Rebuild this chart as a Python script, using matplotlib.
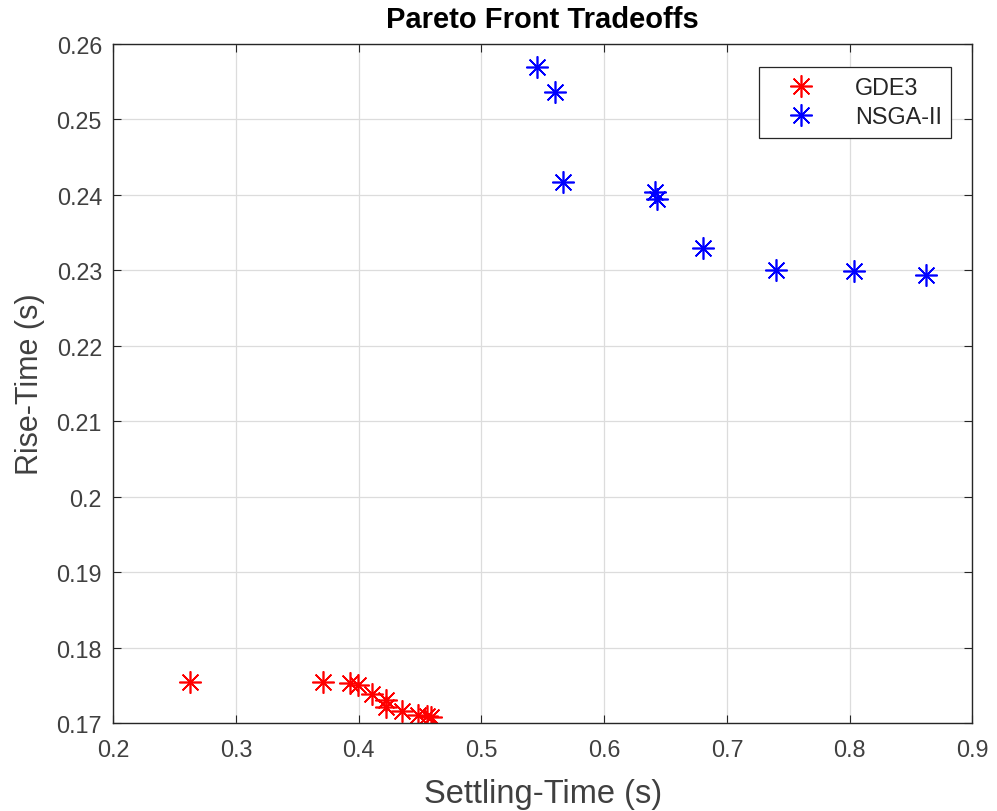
import matplotlib
matplotlib.use("Agg")
import matplotlib.pyplot as plt

plt.rcParams['font.family'] = ['Liberation Sans', 'DejaVu Sans']

gde3_settling = [0.2623, 0.3710, 0.3927, 0.3995, 0.4112, 0.4227, 0.4221, 0.4357, 0.4484, 0.4553, 0.4593]
gde3_rise = [0.1754, 0.1754, 0.1753, 0.1750, 0.1739, 0.1731, 0.1721, 0.1716, 0.1710, 0.1709, 0.1708]

nsga_settling = [0.5454, 0.5598, 0.5666, 0.6413, 0.6427, 0.6807, 0.7397, 0.8038, 0.8619]
nsga_rise = [0.2569, 0.2536, 0.2417, 0.2404, 0.2395, 0.2329, 0.2301, 0.2299, 0.2294]

xticks = [0.2, 0.3, 0.4, 0.5, 0.6, 0.7, 0.8, 0.9]
yticks = [0.17, 0.18, 0.19, 0.20, 0.21, 0.22, 0.23, 0.24, 0.25, 0.26]
xtick_labels = ['0.2', '0.3', '0.4', '0.5', '0.6', '0.7', '0.8', '0.9']
ytick_labels = ['0.17', '0.18', '0.19', '0.2', '0.21', '0.22', '0.23', '0.24', '0.25', '0.26']

fig = plt.figure(figsize=(9.97, 8.12), dpi=100)
ax = fig.add_axes([0.1134, 0.1084, 0.8620, 0.8362])

asterisk = (8, 2, 0)
ax.plot(gde3_settling, gde3_rise, linestyle='none', marker=asterisk, color='#ff0000',
        markersize=16, markeredgewidth=1.2, label='GDE3')
ax.plot(nsga_settling, nsga_rise, linestyle='none', marker=asterisk, color='#0000ff',
        markersize=16, markeredgewidth=1.2, label='NSGA-II')

ax.set_xlim(0.2, 0.9)
ax.set_ylim(0.17, 0.26)
ax.set_xticks(xticks)
ax.set_xticklabels(xtick_labels)
ax.set_yticks(yticks)
ax.set_yticklabels(ytick_labels)
ax.grid(True, color='#dcdcdc', linewidth=0.9)
ax.set_axisbelow(True)
ax.tick_params(direction='in', top=True, right=True, labelsize=16.8, colors='#262626',
               length=6, labelcolor='#404040')
ax.tick_params(axis='x', pad=11)
ax.tick_params(axis='y', pad=8)
for s in ax.spines.values():
    s.set_color('#262626')
    s.set_linewidth(1.0)

ax.set_xlabel('Settling-Time (s)', fontsize=23.5, color='#404040', labelpad=12)
ax.set_ylabel('Rise-Time (s)', fontsize=22, color='#404040', labelpad=8)
ax.set_title('Pareto Front Tradeoffs', fontsize=21, fontweight='bold', pad=12)

leg = ax.legend(loc='upper right', bbox_to_anchor=(0.975, 0.966), borderaxespad=0,
                fontsize=16.8, fancybox=False, framealpha=1, edgecolor='#262626',
                borderpad=0.4, handletextpad=0.9, handlelength=2.8, labelspacing=0.25)
leg.get_frame().set_linewidth(0.9)
for t in leg.get_texts():
    t.set_color('#262626')

fig.savefig('out.png', dpi=100)
